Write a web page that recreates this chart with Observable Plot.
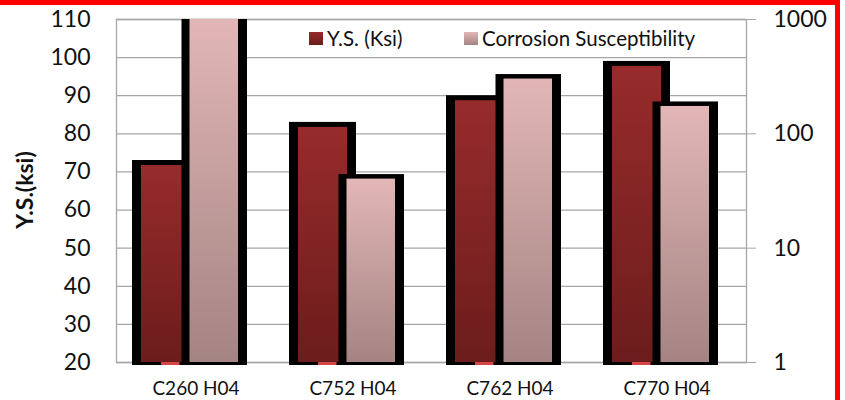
<!DOCTYPE html>
<html>
<head>
<meta charset="utf-8">
<script src="https://cdn.jsdelivr.net/npm/d3@7"></script>
<script src="https://cdn.jsdelivr.net/npm/@observablehq/plot@0.6"></script>
<style>
  body { margin: 0; background: #fff; }
  #wrap { position: relative; width: 845px; height: 400px; overflow: hidden; font-family: Lato, "Open Sans", sans-serif; color: #111; }
  #chart svg { display: block; }
  .redTop { position: absolute; left: 0; top: 0; width: 840px; height: 5px; background: #ff0000; }
  .redRight { position: absolute; left: 835px; top: 0; width: 5px; height: 400px; background: #ff0000; }
  .ytitle { position: absolute; left: 24px; top: 190px; transform: translate(-50%, -50%) rotate(-90deg); font-weight: bold; font-size: 23px; white-space: nowrap; }
  .leg { position: absolute; top: 27px; font-size: 20.5px; line-height: 22px; white-space: nowrap; display: flex; align-items: center; }
  .sw { display: inline-block; width: 14px; height: 13px; margin-right: 4px; }
</style>
</head>
<body>
<div id="wrap">
  <div id="chart"></div>
</div>
<script>
// ---- data ----
const categories = ["C260 H04", "C752 H04", "C762 H04", "C770 H04"];
const yieldStrength = [73, 83, 90, 99];          // left axis (ksi)
const corrosionSusceptibility = [1100, 44, 330, 190]; // right axis (log)
const seriesNames = ["Y.S. (Ksi)", "Corrosion Susceptibility"];
const leftTicks = [20, 30, 40, 50, 60, 70, 80, 90, 100, 110];
const rightTicks = [1, 10, 100, 1000];
const yTitle = "Y.S.(ksi)";

// map right log axis onto left linear axis domain
const logMap = d3.scaleLog().domain([1, 1000]).range([20, 110]);
const rows = categories.map((c, i) => ({
  cat: c,
  ys: yieldStrength[i],
  cs: logMap(corrosionSusceptibility[i])
}));

const redFill = "url(#gRed)";
const pinkFill = "url(#gPink)";

const svg = Plot.plot({
  width: 845,
  height: 400,
  marginLeft: 116,
  marginRight: 99,
  marginTop: 19,
  marginBottom: 38,
  style: { fontFamily: "Lato, 'Open Sans', sans-serif", color: "#111", background: "white", overflow: "visible" },
  x: { domain: categories, padding: 0 },
  y: { domain: [20, 110] },
  marks: [
    Plot.gridY(leftTicks, { stroke: "#a6a6a6", strokeOpacity: 1, strokeWidth: 1.3 }),
    Plot.frame({ stroke: "#a6a6a6", strokeWidth: 1.3 }),
    // Y.S. bars: black outline then gradient fill
    Plot.barY(rows, { x: "cat", y1: 20, y2: "ys", fill: "#000", insetLeft: 15, insetRight: 75 }),
    Plot.barY(rows, { x: "cat", y1: 20, y2: "ys", fill: redFill, insetLeft: 24, insetRight: 84, insetTop: 5 }),
    // Corrosion bars
    Plot.barY(rows, { x: "cat", y1: 20, y2: "cs", fill: "#000", insetLeft: 64.5, insetRight: 27, clip: true }),
    Plot.barY(rows, { x: "cat", y1: 20, y2: "cs", fill: pinkFill, insetLeft: 72.5, insetRight: 36, insetTop: 4.5, clip: true }),
    // base line under each group
    Plot.barY(rows, { x: "cat", y1: 20, y2: 20, fill: "#000", insetLeft: 15, insetRight: 27, insetTop: 0, insetBottom: -3 }),
    Plot.barY(rows, { x: "cat", y1: 20, y2: 20, fill: "#d64545", insetLeft: 44, insetRight: 94.5, insetTop: 0, insetBottom: -3 }),
    // axes
    Plot.axisY(leftTicks, { anchor: "left", tickSize: 0, tickPadding: 26, fontSize: 23, fill: "#111", label: null }),
    Plot.axisY(rightTicks.map(v => logMap(v)), {
      anchor: "right", tickSize: 9, tickPadding: 18, fontSize: 23, stroke: "#a6a6a6", fill: "#111",
      tickFormat: d => String(Math.round(logMap.invert(d))), label: null
    }),
    Plot.axisX({ tickSize: 0, tickPadding: 19, fontSize: 19, fill: "#111", label: null })
  ]
});

// gradients
const defs = d3.select(svg).insert("defs", ":first-child");
function grad(id, top, bottom) {
  const g = defs.append("linearGradient").attr("id", id)
    .attr("x1", 0).attr("y1", 0).attr("x2", 0).attr("y2", 1);
  g.append("stop").attr("offset", "0%").attr("stop-color", top);
  g.append("stop").attr("offset", "100%").attr("stop-color", bottom);
}
grad("gRed", "#972b2b", "#6c1c1c");
grad("gPink", "#e2b6b6", "#a48483");

const wrap = document.getElementById("wrap");
document.getElementById("chart").appendChild(svg);

// y title
const t = document.createElement("div");
t.className = "ytitle";
t.textContent = yTitle;
wrap.appendChild(t);

// legend
const legendPos = [309, 464];
const legendGrad = ["linear-gradient(#972b2b,#6c1c1c)", "linear-gradient(#e2b6b6,#a48483)"];
seriesNames.forEach((name, i) => {
  const d = document.createElement("div");
  d.className = "leg";
  d.style.left = legendPos[i] + "px";
  const s = document.createElement("span");
  s.className = "sw";
  s.style.background = legendGrad[i];
  d.appendChild(s);
  d.appendChild(document.createTextNode(name));
  wrap.appendChild(d);
});

// red decorative border
const r1 = document.createElement("div"); r1.className = "redTop"; wrap.appendChild(r1);
const r2 = document.createElement("div"); r2.className = "redRight"; wrap.appendChild(r2);
</script>
</body>
</html>
